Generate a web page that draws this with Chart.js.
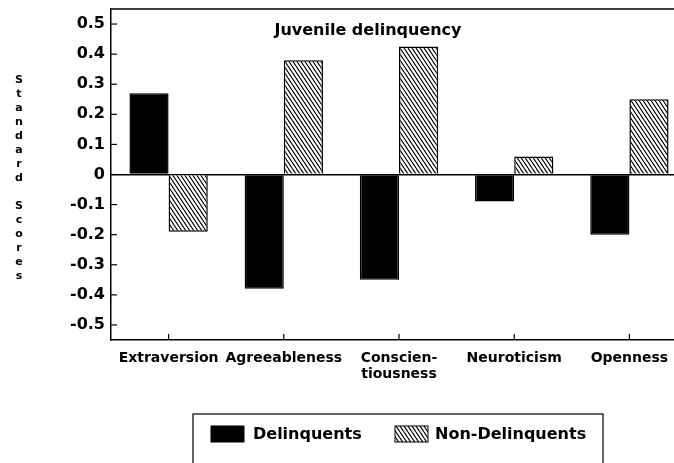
<!DOCTYPE html>
<html>
<head>
<meta charset="utf-8">
<script src="https://cdn.jsdelivr.net/npm/chart.js@4"></script>
<style>
  html, body { margin: 0; padding: 0; background: #fff; overflow: hidden; }
  #wrap { width: 674px; height: 463px; overflow: hidden; position: relative; }
  canvas { display: block; }
</style>
</head>
<body>
<div id="wrap"><canvas id="c" width="687" height="463"></canvas></div>
<script>
const categories = ['Extraversion', 'Agreeableness', ['Conscien-', 'tiousness'], 'Neuroticism', 'Openness'];
const seriesNames = ['Delinquents', 'Non-Delinquents'];
const delinquents = [0.27, -0.38, -0.35, -0.09, -0.20];
const nonDelinquents = [-0.19, 0.38, 0.425, 0.06, 0.25];
const yTickValues = [-0.5, -0.4, -0.3, -0.2, -0.1, 0, 0.1, 0.2, 0.3, 0.4, 0.5];
const chartTitle = 'Juvenile delinquency';
const yAxisTitle = 'Standard Scores';

function makeHatch() {
  const w = 4, h = 6;
  const pc = document.createElement('canvas');
  pc.width = w; pc.height = h;
  const p = pc.getContext('2d');
  p.fillStyle = '#fff';
  p.fillRect(0, 0, w, h);
  p.strokeStyle = '#000';
  p.lineWidth = 1.2;
  for (let k = -1; k <= 1; k++) {
    p.beginPath();
    p.moveTo(k * w, 0);
    p.lineTo(k * w + w, h);
    p.stroke();
  }
  return document.createElement('canvas').getContext('2d').createPattern(pc, 'repeat');
}
const hatch = makeHatch();

const FONT = "'DejaVu Sans', sans-serif";

const decorPlugin = {
  id: 'decor',
  afterDraw(chart) {
    const ctx = chart.ctx;
    const a = chart.chartArea;
    const xs = chart.scales.x, ys = chart.scales.y;
    ctx.save();
    ctx.strokeStyle = '#000';
    // top frame line
    ctx.lineWidth = 1.5;
    ctx.beginPath();
    ctx.moveTo(a.left, a.top);
    ctx.lineTo(a.right, a.top);
    ctx.stroke();
    // inward ticks
    ctx.lineWidth = 1.2;
    yTickValues.forEach(v => {
      const y = ys.getPixelForValue(v);
      ctx.beginPath();
      ctx.moveTo(a.left, y);
      ctx.lineTo(a.left + 6, y);
      ctx.stroke();
    });
    categories.forEach((c, i) => {
      const x = xs.getPixelForValue(i);
      ctx.beginPath();
      ctx.moveTo(x, a.bottom);
      ctx.lineTo(x, a.bottom - 6);
      ctx.stroke();
    });
    // title inside plot
    ctx.fillStyle = '#000';
    ctx.font = 'bold 16px ' + FONT;
    ctx.textAlign = 'center';
    ctx.textBaseline = 'middle';
    ctx.fillText(chartTitle, 368, 31);
    // stacked y-axis title
    ctx.font = 'bold 11px ' + FONT;
    ctx.textAlign = 'center';
    const chars = yAxisTitle.split('');
    chars.forEach((ch, i) => {
      if (ch !== ' ') ctx.fillText(ch, 19, 80 + i * 14);
    });
    // legend
    ctx.lineWidth = 1.2;
    ctx.strokeRect(193, 414, 410, 60);
    const ds = chart.data.datasets;
    const items = [
      { sx: 211, tx: 253 },
      { sx: 395, tx: 435 }
    ];
    ctx.font = 'bold 16px ' + FONT;
    ctx.textAlign = 'left';
    ctx.textBaseline = 'middle';
    items.forEach((it, i) => {
      ctx.fillStyle = ds[i].backgroundColor;
      ctx.fillRect(it.sx, 426, 33, 16);
      ctx.lineWidth = 1;
      ctx.strokeRect(it.sx, 426, 33, 16);
      ctx.fillStyle = '#000';
      ctx.fillText(ds[i].label, it.tx, 435);
    });
    ctx.restore();
  }
};

new Chart(document.getElementById('c'), {
  type: 'bar',
  data: {
    labels: categories,
    datasets: [
      { label: seriesNames[0], data: delinquents, backgroundColor: '#000', borderColor: '#000', borderWidth: 1.5 },
      { label: seriesNames[1], data: nonDelinquents, backgroundColor: hatch, borderColor: '#000', borderWidth: 1.5 }
    ]
  },
  options: {
    responsive: false,
    animation: false,
    events: [],
    layout: { padding: { top: 9, left: 0, right: 0, bottom: 0 } },
    datasets: { bar: { categoryPercentage: 0.68, barPercentage: 1.0 } },
    plugins: { legend: { display: false }, title: { display: false }, tooltip: { enabled: false } },
    scales: {
      x: {
        type: 'category',
        offset: true,
        grid: { display: false, drawTicks: false },
        border: { display: true, color: '#000', width: 1.5 },
        ticks: {
          color: '#000',
          font: { family: FONT, size: 14, weight: 'bold', lineHeight: 1.15 },
          padding: 10,
          maxRotation: 0, minRotation: 0, autoSkip: false
        },
        afterFit(scale) { scale.height = 123; scale.paddingLeft = 0; scale.paddingRight = 0; }
      },
      y: {
        min: -0.55,
        max: 0.55,
        grid: {
          drawTicks: false,
          color: c => (c.tick && c.tick.value === 0) ? '#000' : 'rgba(0,0,0,0)',
          lineWidth: 1.5
        },
        border: { display: true, color: '#000', width: 1.5 },
        ticks: {
          color: '#000',
          font: { family: FONT, size: 16, weight: 'bold', lineHeight: 1 },
          padding: 6,
          callback: v => (v === 0 ? '0' : Number(v).toFixed(1))
        },
        afterBuildTicks(scale) { scale.ticks = yTickValues.map(v => ({ value: v })); },
        afterFit(scale) { scale.width = 111; scale.paddingTop = 0; scale.paddingBottom = 0; }
      }
    }
  },
  plugins: [decorPlugin]
});
</script>
</body>
</html>
